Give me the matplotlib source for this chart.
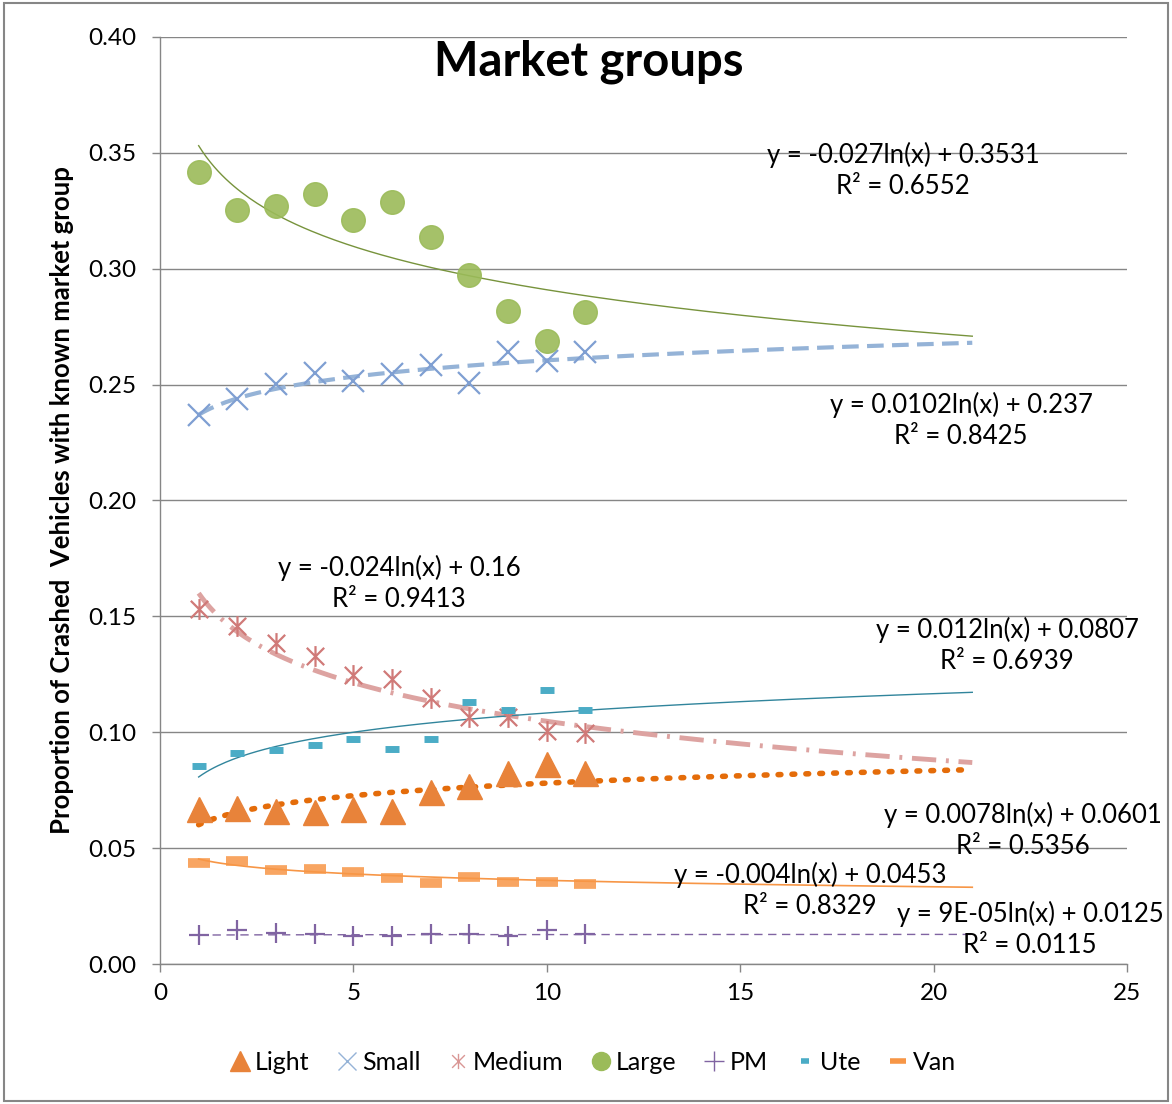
import numpy as np
import matplotlib
matplotlib.use("Agg")
import matplotlib.pyplot as plt
from matplotlib.path import Path
from matplotlib.patches import Rectangle
from matplotlib.lines import Line2D

plt.rcParams["font.family"] = ["Lato", "DejaVu Sans"]

# ==========================
# DATA
# ==========================
x = [1, 2, 3, 4, 5, 6, 7, 8, 9, 10, 11]

light = [0.0669, 0.0673, 0.0660, 0.0656, 0.0669, 0.0660, 0.0742, 0.0768, 0.0824, 0.0863, 0.0824]
small = [0.2369, 0.2438, 0.2503, 0.2550, 0.2516, 0.2546, 0.2585, 0.2507, 0.2641, 0.2602, 0.2641]
medium = [0.1532, 0.1458, 0.1385, 0.1329, 0.1247, 0.1230, 0.1148, 0.1066, 0.1066, 0.1005, 0.0997]
large = [0.3418, 0.3254, 0.3270, 0.3323, 0.3210, 0.3290, 0.3137, 0.2973, 0.2818, 0.2688, 0.2813]
pm = [0.0125, 0.0145, 0.0135, 0.0130, 0.0120, 0.0120, 0.0130, 0.0130, 0.0120, 0.0145, 0.0130]
ute = [0.0854, 0.0910, 0.0923, 0.0945, 0.0971, 0.0928, 0.0971, 0.1130, 0.1096, 0.1182, 0.1096]
van = [0.0436, 0.0444, 0.0406, 0.0410, 0.0397, 0.0371, 0.0350, 0.0375, 0.0354, 0.0354, 0.0345]

# log trendline coefficients shown on the chart: y = a*ln(x) + b
coef_a = {"Light": 0.0078, "Small": 0.0102, "Medium": -0.024, "Large": -0.027,
          "PM": 9e-05, "Ute": 0.012, "Van": -0.004}
coef_b = {"Light": 0.0601, "Small": 0.237, "Medium": 0.16, "Large": 0.3531,
          "PM": 0.0125, "Ute": 0.0807, "Van": 0.0453}
eq_text = {"Light": "y = 0.0078ln(x) + 0.0601\nR² = 0.5356",
           "Small": "y = 0.0102ln(x) + 0.237\nR² = 0.8425",
           "Medium": "y = -0.024ln(x) + 0.16\nR² = 0.9413",
           "Large": "y = -0.027ln(x) + 0.3531\nR² = 0.6552",
           "PM": "y = 9E-05ln(x) + 0.0125\nR² = 0.0115",
           "Ute": "y = 0.012ln(x) + 0.0807\nR² = 0.6939",
           "Van": "y = -0.004ln(x) + 0.0453\nR² = 0.8329"}
trend_x = np.linspace(1, 21, 200)

# asterisk marker: X plus a vertical bar
star = Path([(-1, -1), (1, 1), (-1, 1), (1, -1), (0, -1.2), (0, 1.2)],
            [Path.MOVETO, Path.LINETO, Path.MOVETO, Path.LINETO, Path.MOVETO, Path.LINETO])

fig = plt.figure(figsize=(11.72, 11.04), dpi=100)
ax = fig.add_axes([0.1365, 0.1268, 0.8251, 0.8397])

# trendlines first, markers on top
ax.plot(trend_x, coef_a["Large"] * np.log(trend_x) + coef_b["Large"], color="#77933C", lw=1, zorder=2)
ax.plot(trend_x, coef_a["Small"] * np.log(trend_x) + coef_b["Small"], color="#95B3D7", lw=3,
        ls=(0, (4, 2)), zorder=2)
ax.plot(trend_x, coef_a["Medium"] * np.log(trend_x) + coef_b["Medium"], color="#DDA3A1", lw=3.5,
        ls=(0, (5, 2, 0.6, 2)), zorder=2)
ax.plot(trend_x, coef_a["Ute"] * np.log(trend_x) + coef_b["Ute"], color="#31859C", lw=1, zorder=2)
ax.plot(trend_x, coef_a["Light"] * np.log(trend_x) + coef_b["Light"], color="#E46C0A", lw=4,
        ls=(0, (0.5, 2)), dash_capstyle="round", zorder=2)
ax.plot(trend_x, coef_a["Van"] * np.log(trend_x) + coef_b["Van"], color="#F79646", lw=1.2, zorder=2)
ax.plot(trend_x, coef_a["PM"] * np.log(trend_x) + coef_b["PM"], color="#8064A2", lw=1,
        ls=(0, (6, 4)), zorder=2)

ax.plot(x, light, ls="none", marker="^", ms=18, color="#E8833A", mec="#E8833A", zorder=3)
ax.plot(x, small, ls="none", marker="x", ms=16, mew=1.6, color="#7F9FD2", zorder=3)
ax.plot(x, medium, ls="none", marker=star, ms=15, mew=1.6, color="#D07A78", mfc="none", zorder=3)
ax.plot(x, large, ls="none", marker="o", ms=17, color="#9BBB59", mec="#9BBB59", alpha=0.9, zorder=3)
ax.plot(x, pm, ls="none", marker="+", ms=15, mew=1.6, color="#8064A2", zorder=3)
ax.plot(x, ute, ls="none", marker="_", ms=10, mew=5, color="#4BACC6", zorder=3)
ax.plot(x, van, ls="none", marker="_", ms=16, mew=7, color="#F79646", alpha=0.85, zorder=3)

# legend handles (smaller markers, like the original)
handles = [
    Line2D([], [], ls="none", marker="^", ms=14, color="#E8833A", label="Light"),
    Line2D([], [], ls="none", marker="x", ms=13, mew=1.0, color="#95B3D7", label="Small"),
    Line2D([], [], ls="none", marker=star, ms=11, mew=1.0, color="#D99694", mfc="none", label="Medium"),
    Line2D([], [], ls="none", marker="o", ms=13, color="#9BBB59", label="Large"),
    Line2D([], [], ls="none", marker="+", ms=14, mew=1.0, color="#8064A2", label="PM"),
    Line2D([], [], ls="none", marker="_", ms=6, mew=4, color="#4BACC6", label="Ute"),
    Line2D([], [], ls="none", marker="_", ms=11, mew=4, color="#F79646", label="Van"),
]

# equation labels
eq_pos = {"Large": (19.21, 0.3426), "Small": (20.71, 0.2347), "Medium": (6.18, 0.164),
          "Ute": (21.9, 0.1376), "Light": (22.31, 0.0578), "Van": (16.8, 0.0319), "PM": (22.49, 0.0151)}
for k, (px, py) in eq_pos.items():
    ax.text(px, py, eq_text[k], ha="center", va="center", fontsize=18.5, linespacing=1.3, zorder=4)

ax.set_xlim(0, 25)
ax.set_ylim(0, 0.40)
ax.set_xticks(range(0, 26, 5))
ax.set_yticks(np.arange(0, 0.401, 0.05))
ax.yaxis.set_major_formatter(matplotlib.ticker.FormatStrFormatter("%.2f"))
ax.tick_params(axis="both", labelsize=17.5, color="#868686", length=6, width=1)
ax.tick_params(axis="x", pad=8)
ax.tick_params(axis="y", pad=11)

ax.grid(axis="y", color="#868686", lw=1)
ax.set_axisbelow(True)
for side in ["top", "right"]:
    ax.spines[side].set_visible(False)
for side in ["left", "bottom"]:
    ax.spines[side].set_color("#868686")
    ax.spines[side].set_linewidth(1)

ax.set_ylabel("Proportion of Crashed  Vehicles with known market group", fontsize=18.5,
              fontweight="bold", labelpad=10)
ax.text(0.4437, 0.973, "Market groups", transform=ax.transAxes, ha="center", va="center",
        fontsize=34, fontweight="bold")

fig.legend(handles=handles, loc="center", bbox_to_anchor=(0.505, 0.038), ncol=7, frameon=False,
           fontsize=18, handletextpad=0.1, columnspacing=1.0, handlelength=1.0)

fig.patches.append(Rectangle((0.003, 0.003), 0.994, 0.994, transform=fig.transFigure,
                             fill=False, edgecolor="#868686", lw=1.5))

plt.savefig("out.png", dpi=100)
